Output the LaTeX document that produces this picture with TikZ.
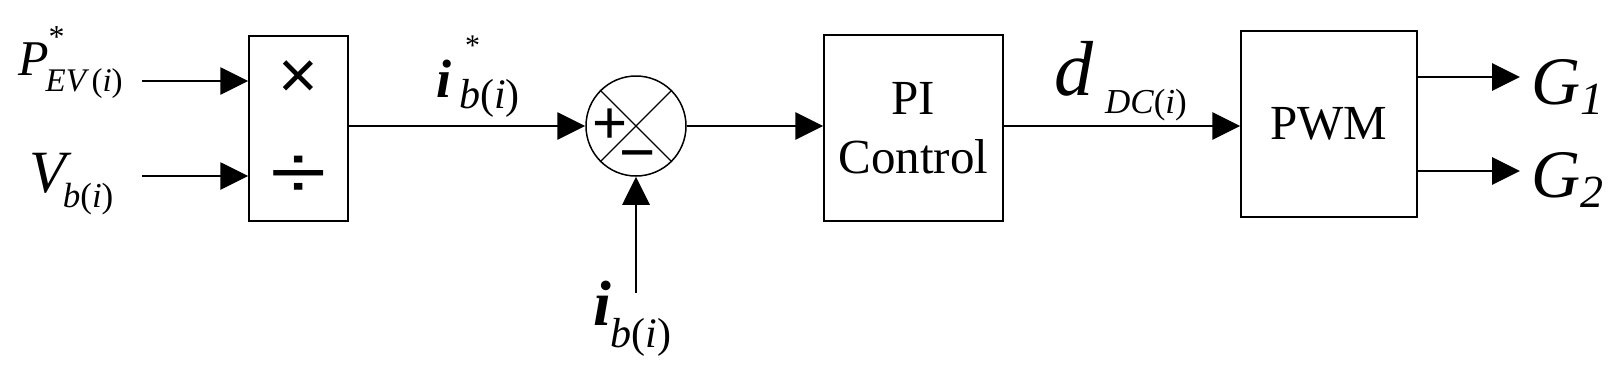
\documentclass[tikz,border=0pt]{standalone}
\usepackage{fontspec}
\setmainfont{Liberation Serif}
\newfontfamily\symfont{Liberation Sans}
\usetikzlibrary{arrows.meta}
\newcommand{\fs}[1]{\fontsize{#1}{#1}\selectfont}
\begin{document}
\begin{tikzpicture}[x=1pt,y=-1pt,
  conn/.style={line width=2.8pt,-{Triangle[length=28pt,width=27pt]}},
  blk/.style={draw,line width=1.5pt,inner sep=0pt},
  lbl/.style={inner sep=0pt,anchor=base west}]
\useasboundingbox (0,0) rectangle (1624,372);

% blocks
\node[blk,minimum width=99pt,minimum height=185pt] (mult) at (298.5,128.5) {};
\node[inner sep=0pt] (times) at (298,80) {\symfont\fs{68}×};
\node[inner sep=0pt] (divide) at (299,177) {\scalebox{1.35}[1]{\symfont\fs{76}÷}};
\node[draw,circle,line width=1.5pt,minimum size=100pt,inner sep=0pt] (sum) at (636,126) {};
\draw[line width=1.3pt] (sum.north west) -- (sum.south east) (sum.north east) -- (sum.south west);
\node[inner sep=0pt] (plus) at (610,126) {\symfont\fs{60}+};
\node[inner sep=0pt] (minus) at (638,162) {\symfont\fs{62}−};
\node[blk,minimum width=179pt,minimum height=186pt,align=center,font=\fontsize{49}{59}\selectfont] (pi) at (913.5,128) {PI\\Control};
\node[blk,minimum width=176pt,minimum height=186pt,font=\fs{49}] (pwm) at (1329,124) {PWM};

% labels
\node[lbl] (lp) at (18,75) {\fs{50}\itshape P\rlap{\upshape\raisebox{28pt}{\fs{32}*}}\kern-3pt\raisebox{-16pt}{\fs{33}\itshape EV\,\upshape(\itshape i\upshape)}};
\node[lbl] (lv) at (29,192) {\fs{60}\itshape V\kern-3pt\raisebox{-15pt}{\fs{35}\itshape b\upshape(\itshape i\upshape)}};
\node[lbl] (li) at (436,97) {\fs{54}\bfseries\itshape i\rlap{\kern14pt\mdseries\upshape\raisebox{42pt}{\fs{30}*}}\kern8pt\raisebox{-11pt}{\fs{42}\mdseries\itshape b\upshape(\itshape i\upshape)}};
\node[lbl] (lib) at (593,325) {\fs{64}\bfseries\itshape i\raisebox{-22pt}{\fs{42}\mdseries\itshape b\upshape(\itshape i\upshape)}};
\node[lbl] (ld) at (1054,95) {\fs{78}\itshape d\kern12pt\raisebox{-18pt}{\fs{35}\itshape DC\upshape(\itshape i\upshape)}};
\node[lbl] (lg1) at (1531,104) {\fs{68}\itshape G\raisebox{-10pt}{\fs{46}\itshape 1}};
\node[lbl] (lg2) at (1531,197) {\fs{68}\itshape G\raisebox{-10pt}{\fs{46}\itshape 2}};

% free ends
\coordinate (pin) at (142,81);
\coordinate (vin) at (142,176);
\coordinate (ibin) at (636,293);
\coordinate (g1) at (1520,77);
\coordinate (g2) at (1520,171);

% connectors
\draw[conn] (pin) -- (pin -| mult.west);
\draw[conn] (vin) -- (vin -| mult.west);
\draw[conn] (sum.west -| mult.east) -- (sum.west);
\draw[conn] (sum.east) -- (sum.east -| pi.west);
\draw[conn] (sum.east -| pi.east) -- (sum.east -| pwm.west);
\draw[conn] (ibin) -- (sum.south);
\draw[conn] (g1 -| pwm.east) -- (g1);
\draw[conn] (g2 -| pwm.east) -- (g2);
\end{tikzpicture}
\end{document}
